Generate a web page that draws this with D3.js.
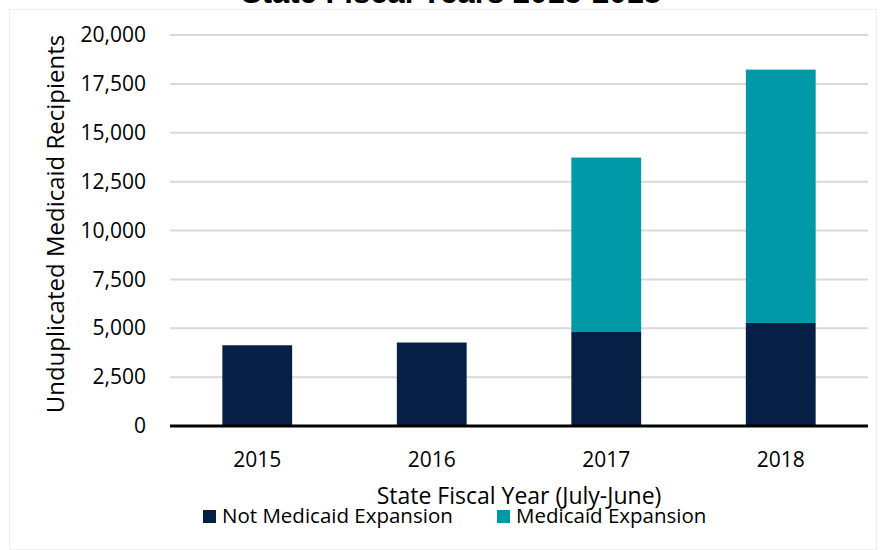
<!DOCTYPE html>
<html><head><meta charset="utf-8">
<script src="https://cdn.jsdelivr.net/npm/d3@7"></script>
<style>html,body{margin:0;padding:0;background:#fff;}svg{display:block;}</style>
</head><body>
<script>
const years = ["2015","2016","2017","2018"];
const notExpansion = [4130, 4270, 4810, 5270];
const expansion = [0, 0, 8920, 12960];
const seriesNames = ["Not Medicaid Expansion", "Medicaid Expansion"];
const seriesColors = ["#051F45", "#0099A7"];
const yTicks = [0, 2500, 5000, 7500, 10000, 12500, 15000, 17500, 20000];
const title = "State Fiscal Years 2015-2018";
const yTitle = "Unduplicated Medicaid Recipients";
const xTitle = "State Fiscal Year (July-June)";

(function(){
const W = 883, H = 550;
const pL = 170, pR = 868, pT = 35, pB = 426;
const font = "'Open Sans', sans-serif";

const svg = d3.select("body").append("svg").attr("width", W).attr("height", H);

// chart border
svg.append("rect").attr("x", 9.5).attr("y", 9.5).attr("width", 867).attr("height", 540)
  .attr("fill", "#fff").attr("stroke", "#eeeeee").attr("stroke-width", 1);

// title (clipped at top)
svg.append("text").attr("x", 451).attr("y", 3).attr("text-anchor", "middle")
  .attr("font-family", "'Liberation Sans', Arial, sans-serif").attr("font-weight", "bold")
  .attr("font-size", 31).attr("fill", "#000").text(title);

const x = d3.scaleBand().domain(years).range([pL, pR]).paddingInner(0.6).paddingOuter(0.3);
const y = d3.scaleLinear().domain([0, 20000]).range([pB, pT]);

// gridlines
svg.append("g").selectAll("line").data(yTicks.filter(d => d > 0)).join("line")
  .attr("x1", pL).attr("x2", pR).attr("y1", d => y(d)).attr("y2", d => y(d))
  .attr("stroke", "#d9d9d9").attr("stroke-width", 2);

// y axis labels
const yAxis = d3.axisLeft(y).tickValues(yTicks).tickFormat(d3.format(",")).tickSize(0).tickPadding(0);
const gy = svg.append("g").attr("transform", `translate(${146},0)`).call(yAxis);
gy.select(".domain").remove();
gy.selectAll("text").attr("font-family", font).attr("font-size", 21).attr("fill", "#000");

// stacked data
const table = years.map((yr, i) => ({year: yr, a: notExpansion[i], b: expansion[i]}));
const stack = d3.stack().keys(["a", "b"])(table);

svg.append("g").selectAll("g").data(stack).join("g")
  .attr("fill", (d, i) => seriesColors[i])
  .selectAll("rect").data(d => d.filter(p => p[1] - p[0] > 0)).join("rect")
  .attr("x", d => x(d.data.year)).attr("width", x.bandwidth())
  .attr("y", d => y(d[1])).attr("height", d => y(d[0]) - y(d[1]));

// x axis
const xAxis = d3.axisBottom(x).tickSize(0).tickPadding(0);
const gx = svg.append("g").attr("transform", `translate(0,${pB})`).call(xAxis);
gx.select(".domain").remove();
gx.selectAll("text").attr("font-family", font).attr("font-size", 21).attr("fill", "#000")
  .attr("dy", null).attr("y", 41);

svg.append("line").attr("x1", pL).attr("x2", pR).attr("y1", pB).attr("y2", pB)
  .attr("stroke", "#000").attr("stroke-width", 3);

// axis titles
svg.append("text").attr("transform", `translate(64,224) rotate(-90)`)
  .attr("text-anchor", "middle").attr("font-family", font).attr("font-size", 24).attr("fill", "#000")
  .text(yTitle);
svg.append("text").attr("x", 519).attr("y", 504).attr("text-anchor", "middle")
  .attr("font-family", font).attr("font-size", 23).attr("fill", "#000").text(xTitle);

// legend
const legX = [203, 497];
const lg = svg.append("g").selectAll("g").data(seriesNames).join("g")
  .attr("transform", (d, i) => `translate(${legX[i]},510)`);
lg.append("rect").attr("width", 13).attr("height", 13).attr("fill", (d, i) => seriesColors[i]);
lg.append("text").attr("x", 19).attr("y", 13).attr("font-family", font).attr("font-size", 20.5)
  .attr("fill", "#000").text(d => d);
})();
</script>
</body></html>
